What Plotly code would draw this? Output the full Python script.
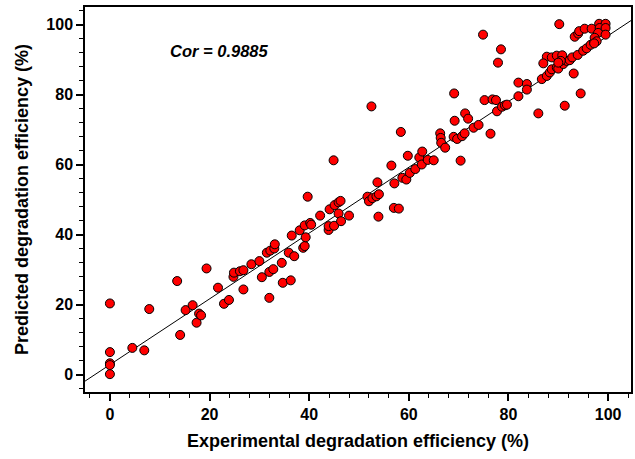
import numpy as np
import plotly.graph_objects as go

experimental = [
    0, 0, 0, 0, 0,
    4.5, 6.9, 7.9,
    13.5, 14.1, 15.2, 16.6, 17.4, 17.9, 18.3, 19.4,
    21.7, 22.9, 23.9, 24.8, 24.9, 26.1, 26.8, 26.8,
    28.4, 30.0, 30.5, 31.5, 32.0, 32.0, 32.2, 32.8, 33.0, 33.1,
    34.5, 34.7, 36.3, 35.9, 37.0, 36.5, 38.1, 38.8, 39.1, 39.3, 39.1, 40.2, 40.4, 39.7,
    42.2, 43.9, 43.9, 44.1, 45.0, 44.9, 45.1, 45.9, 46.3, 45.9, 46.4, 48.0,
    51.7, 52.0, 52.7, 53.5, 54.0, 52.5, 53.7, 53.9,
    56.5, 57.1, 57.0, 58.0, 58.4, 58.7, 59.5, 59.8, 60.2, 61.3,
    62.1, 62.7, 62.6, 63.8, 65.0,
    66.3, 66.4, 66.5, 67.3, 69.0, 69.1, 69.2, 69.7, 70.4, 70.7, 71.2, 71.3, 71.9, 73.0, 74.0,
    74.9, 75.2, 76.4, 76.8, 77.5, 77.7, 77.9, 78.5, 78.7, 79.3, 79.7,
    82.0, 82.0, 83.7, 83.7,
    86.0, 86.7, 87.7, 88.3, 88.7, 89.7, 90.0, 91.0, 91.7, 92.3, 92.8, 93.9, 95.0, 95.7, 96.5, 97.2,
    87.7, 87.0, 88.7, 89.7, 90.8, 90.5, 90.0,
    93.1, 94.5, 91.3, 90.2,
    93.3, 94.0, 94.2, 95.3, 96.7, 98.2, 99.5, 98.3, 99.5, 98.0, 99.5, 97.3, 97.7, 97.2,
]
predicted = [
    20.3, 6.4, 3.2, 2.7, 0.1,
    7.6, 6.9, 18.7,
    26.7, 11.3, 18.4, 19.8, 14.8, 17.4, 16.9, 30.3,
    24.8, 20.2, 21.3, 27.9, 29.1, 29.5, 29.8, 24.3,
    31.5, 32.4, 27.8, 34.8, 21.9, 29.3, 35.4, 30.1, 36.0, 37.2,
    31.9, 26.2, 26.9, 34.8, 33.8, 39.7, 41.2, 36.2, 36.7, 39.2, 42.6, 43.3, 42.8, 50.8,
    45.4, 41.3, 42.4, 47.2, 42.5, 61.2, 48.4, 49.2, 49.6, 46.0, 43.8, 45.4,
    50.8, 49.5, 50.4, 50.9, 51.5, 76.6, 54.9, 45.1,
    59.7, 54.6, 47.6, 47.4, 69.3, 56.2, 55.7, 62.5, 57.6, 58.7,
    62.0, 63.7, 60.0, 61.3, 61.2,
    68.9, 67.6, 66.2, 64.8, 67.9, 80.3, 72.5, 67.3, 61.1, 68.1, 68.9, 74.6, 73.1, 70.5, 71.3,
    97.1, 78.4, 68.8, 78.6, 78.4, 75.2, 89.1, 92.9, 76.5, 76.9, 77.1,
    83.4, 79.5, 83.0, 81.4,
    74.6, 84.4, 85.3, 86.3, 87.2, 87.7, 87.4, 88.7, 89.6, 89.8, 90.6, 91.3, 92.5, 93.2, 94.2, 94.9,
    90.8, 88.9, 90.6, 91.1, 91.2, 89.6, 89.1,
    86.0, 80.3, 76.8, 100.1,
    96.5, 97.4, 98.1, 98.8, 98.8, 100.2, 100.2, 99.0, 99.0, 97.6, 97.1, 96.2, 95.2, 94.6,
]

fit_slope = 0.94
fit_intercept = 2.8
line_x = [-5, 105]
cor_text = "Cor = 0.9885"

x_ticks = [0, 20, 40, 60, 80, 100]
y_ticks = [0, 20, 40, 60, 80, 100]

FONT = "Arial, Liberation Sans, sans-serif"

fig = go.Figure()
fig.add_trace(go.Scatter(
    x=line_x, y=[fit_slope * v + fit_intercept for v in line_x],
    mode="lines", line=dict(color="black", width=1), hoverinfo="skip",
    showlegend=False,
))
fig.add_trace(go.Scatter(
    x=experimental, y=predicted, mode="markers",
    marker=dict(size=9, color="#ff0000", line=dict(color="black", width=1)),
    showlegend=False, cliponaxis=False,
))

fig.add_annotation(
    x=11.6, y=92.3, xref="x", yref="y", xanchor="left", yanchor="middle",
    text=cor_text, showarrow=False,
    font=dict(family=FONT, size=16.5, color="black", weight="bold", style="italic"),
)

axis_common = dict(
    showline=True, linecolor="black", linewidth=1.5, mirror=True,
    ticks="outside", ticklen=7, tickwidth=1.5, tickcolor="black",
    showgrid=False, zeroline=False,
    tickfont=dict(family=FONT, size=16, color="black", weight="bold"),
    minor=dict(ticks="outside", ticklen=4, tickwidth=1, tickcolor="black", dtick=4),
)

fig.update_xaxes(
    range=[-5, 104.6], tickvals=x_ticks, **axis_common,
    title=dict(text="Experimental degradation efficiency (%)",
               font=dict(family=FONT, size=18, color="black", weight="bold"), standoff=12),
)
fig.update_yaxes(
    range=[-5, 105], tickvals=y_ticks, **axis_common,
    title=dict(text="Predicted degradation efficiency (%)",
               font=dict(family=FONT, size=18, color="black", weight="bold"), standoff=13),
)

fig.update_layout(
    width=635, height=459,
    margin=dict(l=85, r=2, t=7, b=67),
    paper_bgcolor="white", plot_bgcolor="white",
)

fig.write_html("out.html")
